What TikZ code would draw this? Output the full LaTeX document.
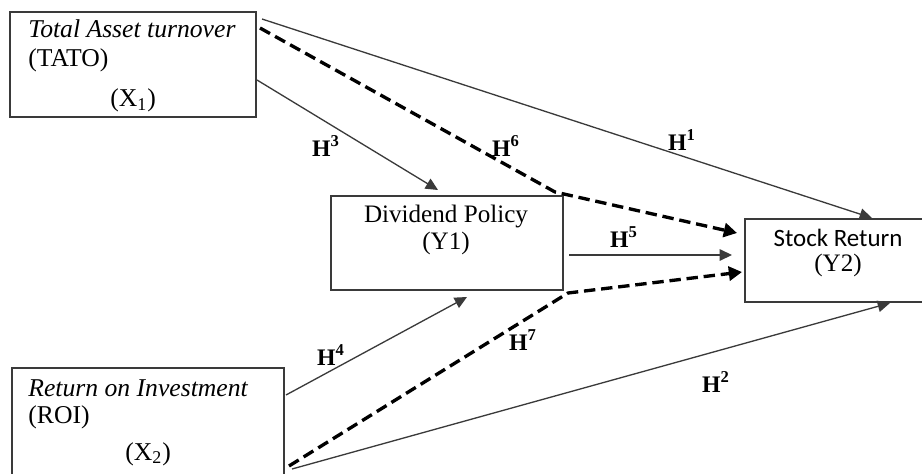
\documentclass[tikz,border=0pt]{standalone}
\usepackage{fontspec}
\setmainfont{Liberation Serif}
\newfontfamily\carlito{Carlito}
\usetikzlibrary{arrows.meta}
\definecolor{linegray}{HTML}{3A3A3A}
\tikzset{
  box/.style={draw=linegray, line width=0.8pt, rectangle, inner sep=0pt},
  txt/.style={inner sep=0pt, anchor=base west, font=\fontsize{14.6}{17}\selectfont},
  txtc/.style={inner sep=0pt, anchor=base, font=\fontsize{14.3}{17}\selectfont},
  hlab/.style={inner sep=0pt, font=\fontsize{13.5}{16}\selectfont\bfseries},
  thinarrow/.style={draw=linegray, line width=0.75pt, -{Triangle[length=7pt,width=6.5pt]}},
  dasharrow/.style={draw=black, line width=1.9pt, dash pattern=on 6.5pt off 3.3pt, -{Triangle[length=7.5pt,width=8pt]}},
}
\begin{document}
\begin{tikzpicture}[x=0.02cm, y=-0.02cm]
\useasboundingbox (0,0) rectangle (922,473);
% boxes
\node[box, minimum width=246*0.02cm, minimum height=105*0.02cm] (tato) at (133,64.5) {};
\node[box, minimum width=272*0.02cm, minimum height=132*0.02cm] (roi) at (148,434) {};
\node[box, minimum width=232*0.02cm, minimum height=94*0.02cm] (div) at (447,243) {};
\node[box, minimum width=215*0.02cm, minimum height=83*0.02cm] (sr) at (852.5,260.5) {};
% texts
\node[txt] (t1) at (28,38) {\itshape Total Asset turnover};
\node[txt] (t2) at (28,67) {(TATO)};
\node[txt] (t3) at (110,107) {(X\textsubscript{1})};
\node[txt] (r1) at (28,396) {\itshape Return on Investment};
\node[txt] (r2) at (28,423) {(ROI)};
\node[txt] (r3) at (125,460) {(X\textsubscript{2})};
\node[txtc] (d1) at (446,222) {Dividend Policy};
\node[txtc] (d2) at (446,249) {(Y1)};
\node[txtc, font=\fontsize{14.2}{17}\carlito] (s1) at (838,246) {Stock Return};
\node[txtc] (s2) at (838,271) {(Y2)};
% connector coordinates
\coordinate (a1) at (262,19);
\coordinate (b1) at (872,218);
\coordinate (a3) at (257,80);
\coordinate (b3) at (438,190);
\coordinate (a6) at (260,28);
\coordinate (m6) at (555,192);
\coordinate (b6) at (737,233);
\coordinate (a5) at (569,255);
\coordinate (b5) at (732,255);
\coordinate (a7) at (289,466);
\coordinate (m7) at (568,293);
\coordinate (b7) at (742,272);
\coordinate (a4) at (286,395);
\coordinate (b4) at (467,297);
\coordinate (a2) at (292,469);
\coordinate (b2) at (890,303);
% connectors
\draw[thinarrow] (a1) -- (b1);
\draw[thinarrow] (a3) -- (b3);
\draw[thinarrow] (a5) -- (b5);
\draw[thinarrow] (a4) -- (b4);
\draw[thinarrow] (a2) -- (b2);
\draw[dasharrow] (a6) -- (m6) -- (b6);
\draw[dasharrow] (a7) -- (m7) -- (b7);
% labels
\node[hlab] (h1) at (682,140) {H\textsuperscript{1}};
\node[hlab] (h2) at (716,382) {H\textsuperscript{2}};
\node[hlab] (h3) at (326,146) {H\textsuperscript{3}};
\node[hlab] (h4) at (331,355) {H\textsuperscript{4}};
\node[hlab] (h5) at (624,237) {H\textsuperscript{5}};
\node[hlab] (h6) at (506,146) {H\textsuperscript{6}};
\node[hlab] (h7) at (523,340) {H\textsuperscript{7}};
\end{tikzpicture}
\end{document}
